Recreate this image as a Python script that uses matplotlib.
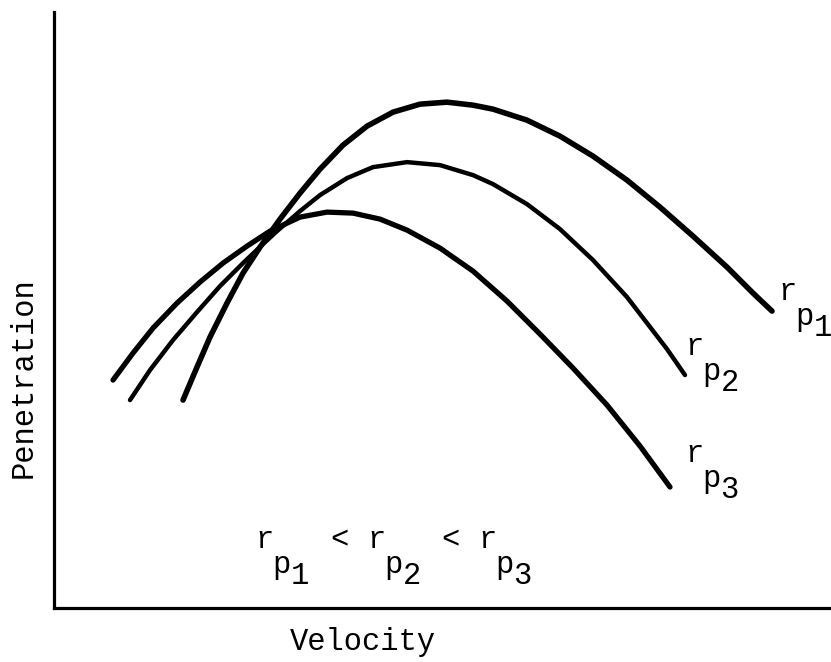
import matplotlib
matplotlib.use('Agg')
import matplotlib.pyplot as plt

plt.rcParams['font.family'] = ['Liberation Mono', 'DejaVu Sans Mono']

# sketch curves (arbitrary units)
vel_rp1 = [129, 143, 156, 173, 189, 206, 226, 246, 266, 289, 313, 339, 366, 393,
           419, 439, 473, 506, 539, 573, 606, 639, 673, 699, 718]
pen_rp1 = [208, 241, 271, 305, 335, 361, 389, 415, 439, 463, 482, 496, 504, 506,
           503, 499, 488, 472, 452, 428, 401, 372, 341, 315, 297]

vel_rp2 = [76, 96, 119, 143, 166, 189, 209, 223, 246, 266, 293, 319, 353, 386,
           419, 439, 473, 506, 539, 573, 613, 631]
pen_rp2 = [208, 238, 268, 296, 322, 345, 364, 377, 397, 413, 430, 441, 446, 443,
           433, 424, 404, 379, 348, 311, 259, 233]

vel_rp3 = [59, 79, 99, 123, 146, 169, 193, 216, 246, 273, 299, 326, 353, 386,
           419, 453, 486, 519, 553, 586, 616]
pen_rp3 = [228, 255, 280, 305, 326, 345, 362, 377, 391, 396, 395, 389, 378, 360,
           337, 307, 274, 240, 203, 162, 121]

curve_digits = ['1', '2', '3']
label_pos = [(724, 308), (631, 253), (631, 146)]
order_pos = [(201, 60), (313, 60), (424, 60)]
less_pos = [(276, 60), (387, 60)]

fig = plt.figure(figsize=(8.31, 6.62), dpi=100)
ax = fig.add_axes([0.065, 0.0816, 0.935, 0.900])
ax.set_xlim(0, 777)
ax.set_ylim(0, 596)

for v, p, lw in [(vel_rp1, pen_rp1, 4.0), (vel_rp2, pen_rp2, 3.2), (vel_rp3, pen_rp3, 3.8)]:
    ax.plot(v, p, color='black', lw=lw, solid_capstyle='round', solid_joinstyle='round')

for side in ['top', 'right']:
    ax.spines[side].set_visible(False)
for side in ['left', 'bottom']:
    ax.spines[side].set_linewidth(2.3)
ax.set_xticks([])
ax.set_yticks([])

fs = 22


def r_label(x, y, digit):
    kw = dict(fontsize=fs, ha='left', va='baseline', color='black')
    ax.text(x, y, 'r', **kw)
    ax.annotate('p', (x, y), xytext=(12.5, -18), textcoords='offset points', **kw)
    ax.annotate(digit, (x, y), xytext=(25.5, -26), textcoords='offset points', **kw)


for (x, y), d in zip(label_pos, curve_digits):
    r_label(x, y, d)
for (x, y), d in zip(order_pos, curve_digits):
    r_label(x, y, d)
for x, y in less_pos:
    ax.text(x, y, '<', fontsize=fs, ha='left', va='baseline')

fig.text(0.437, 0.018, 'Velocity', fontsize=fs, ha='center', va='baseline')
fig.text(0.028, 0.43, 'Penetration', fontsize=fs, ha='center', va='center', rotation=90)

fig.savefig('out.png', dpi=100)
